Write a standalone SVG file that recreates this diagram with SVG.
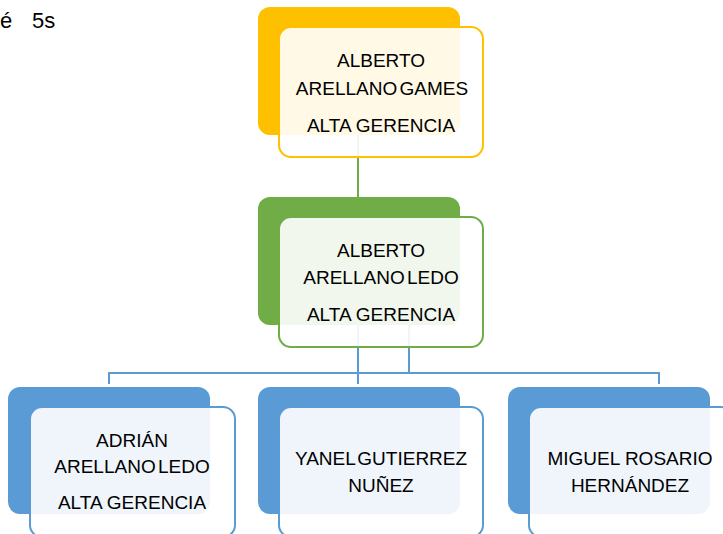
<svg xmlns="http://www.w3.org/2000/svg" width="723" height="534" viewBox="0 0 723 534">
<style>
text{font-family:"Liberation Sans",Arial,sans-serif;font-size:19px;fill:#000;text-anchor:middle}
.t{word-spacing:-3px}
.front{fill:#fff;fill-opacity:0.9;stroke-width:2}
.y .back{fill:#FFC000}.y .front{stroke:#FFC000}
.g .back{fill:#70AD47}.g .front{stroke:#70AD47}
.b .back{fill:#5B9BD5}.b .front{stroke:#5B9BD5}
.conn{fill:none;stroke-width:2}
</style>
<rect width="723" height="534" fill="#fff"/>
<text x="0" y="28" style="text-anchor:start;font-size:22px">é<tspan x="32">5s</tspan></text>
<g id="connectors">
<line class="conn" x1="358" y1="135" x2="358" y2="198" stroke="#70AD47"/>
<path class="conn" d="M358 325V384M409 325V373M109 384V373H659V384" stroke="#5B9BD5"/>
</g>
<g id="n1" class="y">
<rect class="back" x="258" y="7" width="202" height="128" rx="12"/>
<rect class="front" x="279" y="27" width="204" height="130" rx="12"/>
<text x="381" y="67">ALBERTO</text>
<text class="t" x="382" y="95">ARELLANO GAMES</text>
<text x="381" y="132">ALTA GERENCIA</text>
</g>
<g id="n2" class="g">
<rect class="back" x="258" y="197" width="202" height="128" rx="12"/>
<rect class="front" x="279" y="217" width="204" height="130" rx="12"/>
<text x="381" y="257">ALBERTO</text>
<text class="t" x="381" y="284">ARELLANO LEDO</text>
<text x="381" y="321">ALTA GERENCIA</text>
</g>
<g id="n3" class="b">
<rect class="back" x="8" y="387" width="202" height="127" rx="12"/>
<rect class="front" x="30" y="407" width="205" height="130" rx="12"/>
<text x="132" y="447">ADRIÁN</text>
<text class="t" x="132" y="473">ARELLANO LEDO</text>
<text x="132" y="509">ALTA GERENCIA</text>
</g>
<g id="n4" class="b">
<rect class="back" x="258" y="387" width="202" height="127" rx="12"/>
<rect class="front" x="279" y="407" width="204" height="130" rx="12"/>
<text class="t" x="381" y="465">YANEL GUTIERREZ</text>
<text x="381" y="492">NUÑEZ</text>
</g>
<g id="n5" class="b">
<rect class="back" x="508" y="387" width="202" height="127" rx="12"/>
<rect class="front" x="529" y="407" width="204" height="130" rx="12"/>
<text x="630" y="465">MIGUEL ROSARIO</text>
<text x="630" y="492">HERNÁNDEZ</text>
</g>
</svg>
